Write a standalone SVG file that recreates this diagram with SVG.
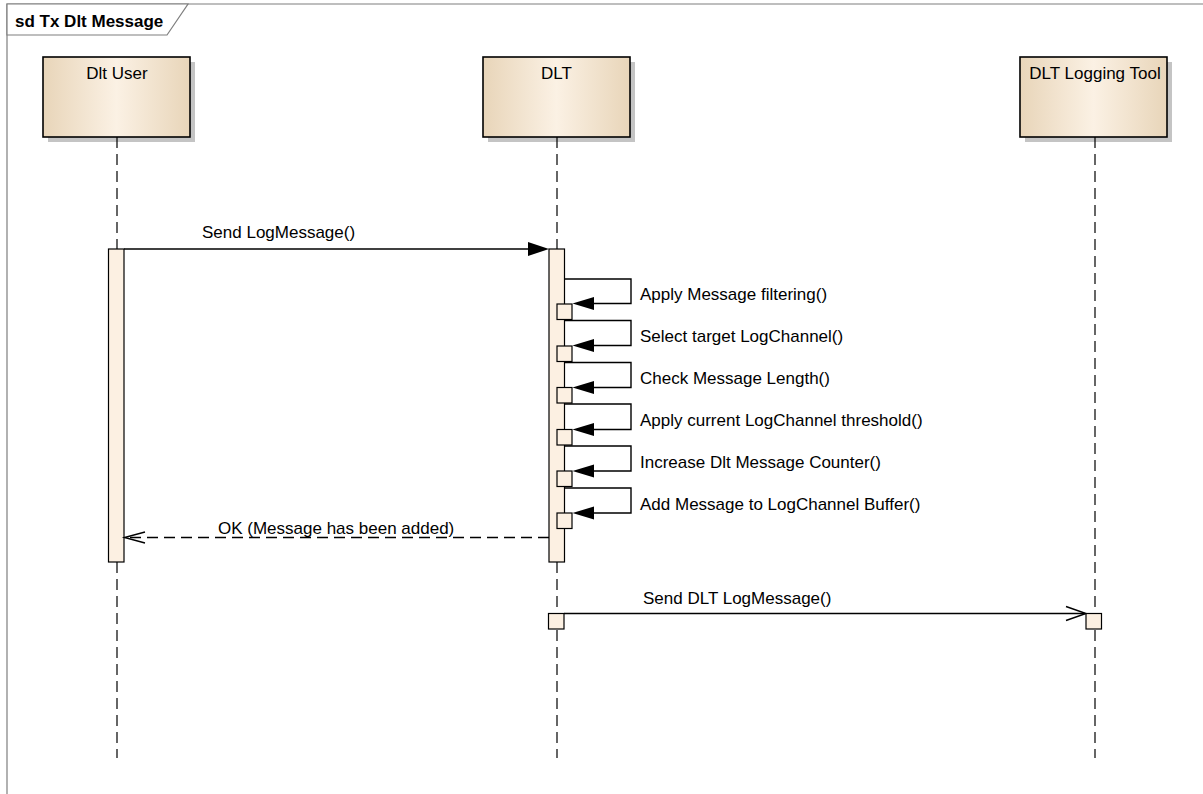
<svg xmlns="http://www.w3.org/2000/svg" width="1203" height="794" viewBox="0 0 1203 794">
  <style>
    text { font-family: "Liberation Sans", Arial, sans-serif; font-size: 17px; fill: #000; }
    .title { font-weight: bold; }
    .frame { fill: none; stroke: #7f7f7f; stroke-width: 1.2; }
    .head { fill: url(#headFill); stroke: #000; stroke-width: 1.6; }
    .shadow { fill: #c4c4c4; }
    .life { stroke: #000; stroke-width: 1.2; stroke-dasharray: 11 6; fill: none; }
    .act { fill: #fcf0e2; stroke: #000; stroke-width: 1.2; }
    .msg { stroke: #000; stroke-width: 1.4; fill: none; }
    .ret { stroke: #000; stroke-width: 1.4; fill: none; stroke-dasharray: 11 6; }
    .solid { fill: #000; stroke: none; }
    .open { fill: none; stroke: #000; stroke-width: 1.4; }
  </style>
  <defs>
    <linearGradient id="headFill" x1="0" y1="0" x2="1" y2="0">
      <stop offset="0" stop-color="#e8d5b9"/>
      <stop offset="0.5" stop-color="#fbf1e4"/>
      <stop offset="1" stop-color="#e8d5b9"/>
    </linearGradient>
    <clipPath id="toolClip"><rect x="1020" y="57" width="147" height="80"/></clipPath>
  </defs>

  <rect x="0" y="0" width="1203" height="794" fill="#fff"/>

  <!-- interaction frame -->
  <g id="frame">
    <path class="frame" d="M7,794 V4 H1203"/>
    <path d="M7,4 H188 L167,35 H7 Z" fill="#fff" stroke="#7f7f7f" stroke-width="1.2"/>
    <text class="title" x="15" y="27">sd Tx Dlt Message</text>
  </g>

  <!-- lifelines -->
  <g id="dlt-user">
    <rect class="shadow" x="48" y="62" width="147" height="80"/>
    <rect class="head" x="43" y="57" width="147" height="80"/>
    <text x="117" y="79" text-anchor="middle">Dlt User</text>
    <line class="life" x1="117" y1="137" x2="117" y2="758"/>
    <rect class="act" x="108.5" y="249" width="15.5" height="313"/>
  </g>

  <g id="dlt">
    <rect class="shadow" x="488" y="62" width="147" height="80"/>
    <rect class="head" x="483" y="57" width="147" height="80"/>
    <text x="556.5" y="78.5" text-anchor="middle">DLT</text>
    <line class="life" x1="557" y1="137" x2="557" y2="758"/>
    <rect class="act" x="549" y="249" width="15.5" height="313"/>
    <rect class="act" x="557" y="304" width="15" height="15.5"/>
    <rect class="act" x="557" y="346" width="15" height="15.5"/>
    <rect class="act" x="557" y="387.5" width="15" height="15.5"/>
    <rect class="act" x="557" y="429.5" width="15" height="15.5"/>
    <rect class="act" x="557" y="471" width="15" height="15.5"/>
    <rect class="act" x="557" y="513" width="15" height="15.5"/>
    <rect class="act" x="548.5" y="613.5" width="15.5" height="15.5"/>
  </g>

  <g id="dlt-logging-tool">
    <rect class="shadow" x="1025" y="62" width="147" height="80"/>
    <rect class="head" x="1020" y="57" width="147" height="80"/>
    <text x="1095" y="78.5" text-anchor="middle" clip-path="url(#toolClip)">DLT Logging Tool</text>
    <line class="life" x1="1095" y1="137" x2="1095" y2="758"/>
    <rect class="act" x="1086" y="613.5" width="15.5" height="15.5"/>
  </g>

  <!-- messages -->
  <g id="connectors">
    <!-- Send LogMessage() -->
    <line class="msg" x1="124" y1="249" x2="530" y2="249"/>
    <path class="solid" d="M549,249 L528,242 L528,256 Z"/>
    <text x="202" y="237.5">Send LogMessage()</text>

    <!-- self calls on DLT -->
    <path class="msg" d="M564.5,279 H631 V303.5 H590"/>
    <path class="solid" d="M572.5,303.5 L594,297 L594,310 Z"/>
    <text x="640" y="300">Apply Message filtering()</text>

    <path class="msg" d="M564.5,320.5 H631 V345.5 H590"/>
    <path class="solid" d="M572.5,345.5 L594,339 L594,352 Z"/>
    <text x="640" y="342">Select target LogChannel()</text>

    <path class="msg" d="M564.5,362.5 H631 V387.5 H590"/>
    <path class="solid" d="M572.5,387.5 L594,381 L594,394 Z"/>
    <text x="640" y="384">Check Message Length()</text>

    <path class="msg" d="M564.5,404 H631 V429.5 H590"/>
    <path class="solid" d="M572.5,429.5 L594,423 L594,436 Z"/>
    <text x="640" y="426">Apply current LogChannel threshold()</text>

    <path class="msg" d="M564.5,446 H631 V471 H590"/>
    <path class="solid" d="M572.5,471 L594,464.5 L594,477.5 Z"/>
    <text x="640" y="468">Increase Dlt Message Counter()</text>

    <path class="msg" d="M564.5,488 H631 V513 H590"/>
    <path class="solid" d="M572.5,513 L594,506.5 L594,519.5 Z"/>
    <text x="640" y="510">Add Message to LogChannel Buffer()</text>

    <!-- return -->
    <line class="ret" x1="549" y1="537.5" x2="125" y2="537.5"/>
    <path class="open" d="M145,532 L124.5,537.5 L145,543"/>
    <text x="218" y="534">OK (Message has been added)</text>

    <!-- Send DLT LogMessage() -->
    <line class="msg" x1="564" y1="613.5" x2="1085" y2="613.5"/>
    <path class="open" d="M1066,606.5 L1086,613.5 L1066,620.5"/>
    <text x="643" y="604">Send DLT LogMessage()</text>
  </g>
</svg>
